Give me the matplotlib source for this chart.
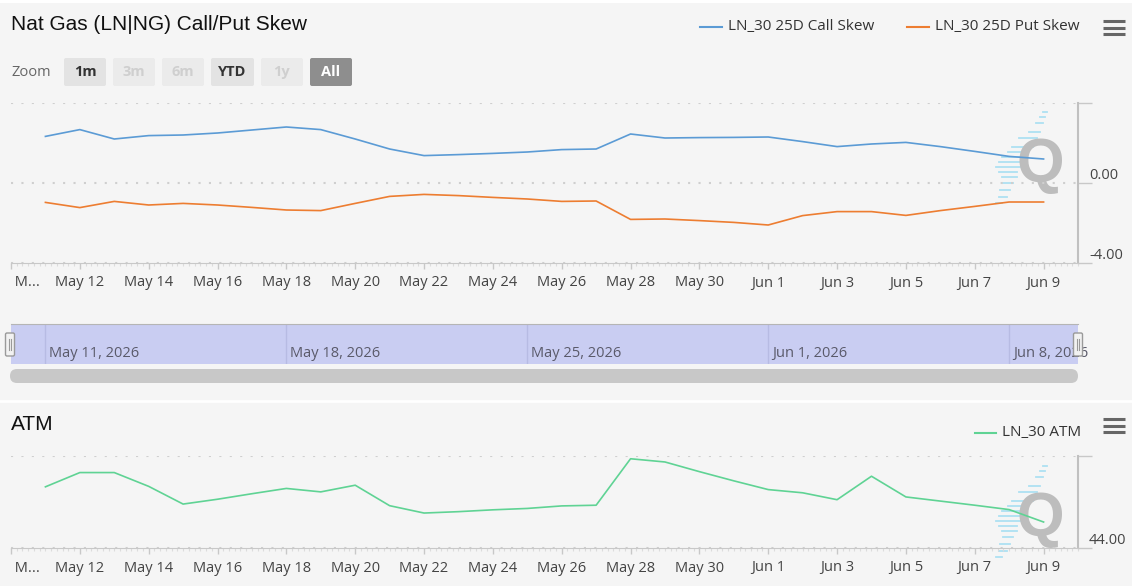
"""
Nat Gas (LN|NG) call/put skew + ATM vol, recreated as a static two-panel chart.
"""

import matplotlib
matplotlib.use("Agg")
import matplotlib.pyplot as plt
import matplotlib.dates as mdates
import matplotlib.transforms as mtransforms
from matplotlib.patches import FancyBboxPatch, Rectangle
import pandas as pd

plt.rcParams["font.family"] = ["Open Sans", "DejaVu Sans"]

# Data
dates = pd.date_range("2026-05-11", "2026-06-09", freq="D")
call_skew = [2.33, 2.67, 2.20, 2.37, 2.40, 2.50, 2.65, 2.80, 2.67, 2.20,
             1.70, 1.37, 1.42, 1.48, 1.55, 1.67, 1.70, 2.45, 2.25, 2.27,
             2.28, 2.30, 2.07, 1.82, 1.95, 2.03, 1.82, 1.58, 1.33, 1.20]
put_skew = [-0.97, -1.23, -0.92, -1.10, -1.02, -1.10, -1.22, -1.35, -1.38, -1.02,
            -0.67, -0.57, -0.63, -0.72, -0.80, -0.92, -0.90, -1.82, -1.80, -1.88,
            -1.97, -2.10, -1.63, -1.43, -1.43, -1.62, -1.38, -1.17, -0.95, -0.95]
atm = [46.66, 47.28, 47.28, 46.68, 45.91, 46.12, 46.36, 46.59, 46.44, 46.73,
       45.84, 45.52, 45.58, 45.66, 45.72, 45.83, 45.86, 47.88, 47.74, 47.32,
       46.92, 46.54, 46.40, 46.10, 47.12, 46.22, 46.04, 45.86, 45.67, 45.13]

skew_ticks = [-4, 0, 4]
skew_labels = ["-4.00", "0.00", ""]
atm_ticks = [44, 48]
atm_labels = ["44.00", ""]

x_start = pd.Timestamp("2026-05-10")
x_end = pd.Timestamp("2026-06-10")
tick_dates = pd.date_range("2026-05-10", "2026-06-09", freq="2D")
tick_labels = [" M..."] + [f"{d:%b} {d.day}" for d in tick_dates[1:]]
nav_dates = pd.date_range("2026-05-11", "2026-06-08", freq="7D")
nav_labels = [f"{d:%b} {d.day}, {d.year}" for d in nav_dates]

buttons = ["1m", "3m", "6m", "YTD", "1y", "All"]
button_x = [64, 113, 162, 211, 261, 310]
button_w = [42, 42, 42, 43, 42, 42]
button_state = ["on", "off", "off", "on", "off", "sel"]

C_CALL = "#5b9bd5"
C_PUT = "#ed7d31"
C_ATM = "#5fd394"
BG = "#f5f5f5"
TXT = "#444444"
AXC = "#c8c8c8"
FS = 10.5  # texto general de ejes
FS_LEG = 11  # leyendas

W, H = 1132, 586
fig = plt.figure(figsize=(W / 100, H / 100), dpi=100, facecolor=BG)


def px_axes(x0, y0, x1, y1):
    return fig.add_axes([x0 / W, 1 - y1 / H, (x1 - x0) / W, (y1 - y0) / H])


def overlay(z):
    a = px_axes(0, 0, W, H)
    a.set_xlim(0, W)
    a.set_ylim(H, 0)
    a.axis("off")
    a.set_zorder(z)
    return a


bg = overlay(0)
bg.add_patch(Rectangle((0, 0), W, 3, fc="white", ec="none"))
bg.plot([0, W], [401, 401], color="white", lw=2)

# Titulos
bg.text(11, 25, "Nat Gas (LN|NG) Call/Put Skew", fontsize=15, color="#111",
        va="center", ha="left", family=["Liberation Sans", "DejaVu Sans"])
bg.text(11, 425, "ATM", fontsize=15, color="#111",
        va="center", ha="left", family=["Liberation Sans", "DejaVu Sans"])

# Botones de zoom
bg.text(12, 72, "Zoom", fontsize=FS, color="#666", va="center", ha="left")
for lab, x0, w, st in zip(buttons, button_x, button_w, button_state):
    fc = {"on": "#e3e3e3", "off": "#ebebeb", "sel": "#8e8e8e"}[st]
    tc = {"on": "#333333", "off": "#cfcfcf", "sel": "white"}[st]
    bg.add_patch(FancyBboxPatch((x0, 58), w, 28, boxstyle="round,pad=0,rounding_size=2",
                                fc=fc, ec="none"))
    bg.text(x0 + w / 2, 72, lab, fontsize=FS, color=tc, weight="bold",
            ha="center", va="center")

# Leyendas
bg.plot([700, 722], [27, 27], color=C_CALL, lw=1.5)
bg.text(728, 27, "LN_30 25D Call Skew", fontsize=FS_LEG, color="#333", va="center")
bg.plot([907, 929], [27, 27], color=C_PUT, lw=1.5)
bg.text(935, 27, "LN_30 25D Put Skew", fontsize=FS_LEG, color="#333", va="center")
bg.plot([975, 996], [433, 433], color=C_ATM, lw=1.5)
bg.text(1002, 433, "LN_30 ATM", fontsize=FS_LEG, color="#333", va="center")

# Iconos de menu
for y0 in (21, 419):
    for dy in (0, 6.5, 13):
        bg.plot([1103, 1125], [y0 + dy, y0 + dy], color="#666", lw=2.2,
                solid_capstyle="butt")

# Marca de agua "Q" con la cuna de trazos azules
wedge = [(-53, 1043, 1047), (-48, 1040, 1045), (-42, 1036, 1043), (-33, 1029, 1040),
         (-27, 1019, 1037), (-18, 1012, 1033), (-13, 1008, 1028), (-8, 1002, 1027),
         (-3, 999, 1023), (2, 996, 1020), (7, 999, 1017), (12, 1002, 1017),
         (18, 1003, 1013), (25, 1000, 1010), (32, 999, 1007), (38, 996, 1002)]
for cy in (165, 519):
    for dy, xa, xb in wedge:
        bg.plot([xa, xb], [cy + dy, cy + dy], color="#a6def2", lw=1.3, alpha=0.9)
    bg.text(1040, cy, "Q", fontsize=44, weight="bold", color="#bdbdbd",
            ha="center", va="center", family=["Liberation Sans", "DejaVu Sans"])


def style_chart(ax, yticks, ylabels):
    ax.set_facecolor("none")
    ax.set_xlim(x_start, x_end)
    ax.set_ylim(yticks[0], yticks[-1])
    ax.spines["top"].set_visible(False)
    ax.spines["left"].set_visible(False)
    ax.spines["bottom"].set_color(AXC)
    ax.spines["right"].set_color("#c0c0c0")
    ax.spines["right"].set_linewidth(1.5)
    ax.yaxis.tick_right()
    ax.set_yticks(yticks)
    ax.set_yticklabels(ylabels)
    ax.tick_params(axis="y", length=10, width=1, color=AXC, pad=-2,
                   labelsize=FS, labelcolor=TXT)
    plt.setp(ax.get_yticklabels(), va="bottom")
    ax.grid(True, axis="y", color="#cfcfcf", lw=1.5, ls=(0, (1, 4)))
    ax.set_xticks(tick_dates)
    ax.set_xticklabels(tick_labels)
    ax.get_xticklabels()[0].set_ha("left")
    ax.xaxis.set_minor_locator(mdates.HourLocator(byhour=range(0, 24, 4)))
    ax.tick_params(axis="x", which="major", length=4, width=1, color=AXC, pad=5,
                   labelsize=FS, labelcolor=TXT)
    ax.tick_params(axis="x", which="minor", length=2, width=0.8, color="#dcdcdc")


# Grafica de skew
ax1 = px_axes(11, 103, 1078, 263)
ax1.set_zorder(1)
style_chart(ax1, skew_ticks, skew_labels)
ax1.plot(dates, call_skew, color=C_CALL, lw=1.2)
ax1.plot(dates, put_skew, color=C_PUT, lw=1.2)

# Grafica ATM
ax2 = px_axes(11, 456, 1078, 548)
ax2.set_zorder(1)
style_chart(ax2, atm_ticks, atm_labels)
ax2.plot(dates, atm, color=C_ATM, lw=1.2)

# Navegador
nav = px_axes(11, 324, 1078, 364)
nav.set_zorder(1)
nav.set_facecolor("#c9cdf2")
nav.set_xlim(x_start, x_end)
nav.set_ylim(0, 1)
nav.set_yticks([])
nav.set_xticks(nav_dates)
nav.tick_params(axis="x", length=0, labelbottom=False)
nav.grid(True, axis="x", color="#b7bbe3", lw=1)
for s in ("left", "right", "bottom"):
    nav.spines[s].set_visible(False)
nav.spines["top"].set_color("#b5b5b5")
off = mtransforms.offset_copy(nav.get_xaxis_transform(), fig=fig, x=4, y=0, units="dots")
for d, lab in zip(nav_dates, nav_labels):
    nav.text(d, 0.27, lab, transform=off, fontsize=FS, color="#5a5a6a",
             ha="left", va="center", clip_on=False, zorder=5)

fg = overlay(3)
for hx in (10, 1078):
    fg.add_patch(FancyBboxPatch((hx - 4.5, 333), 9, 23, boxstyle="round,pad=0,rounding_size=1.5",
                                fc="#f2f2f2", ec="#9a9a9a", lw=1))
    fg.plot([hx - 1, hx - 1], [339, 350], color="#9a9a9a", lw=0.8)
    fg.plot([hx + 1, hx + 1], [339, 350], color="#9a9a9a", lw=0.8)

# Barra de desplazamiento
bg.add_patch(FancyBboxPatch((10, 369), 1068, 14, boxstyle="round,pad=0,rounding_size=7",
                            fc="#c8c8c8", ec="none"))

fig.savefig("out.png", dpi=100, facecolor=BG)
